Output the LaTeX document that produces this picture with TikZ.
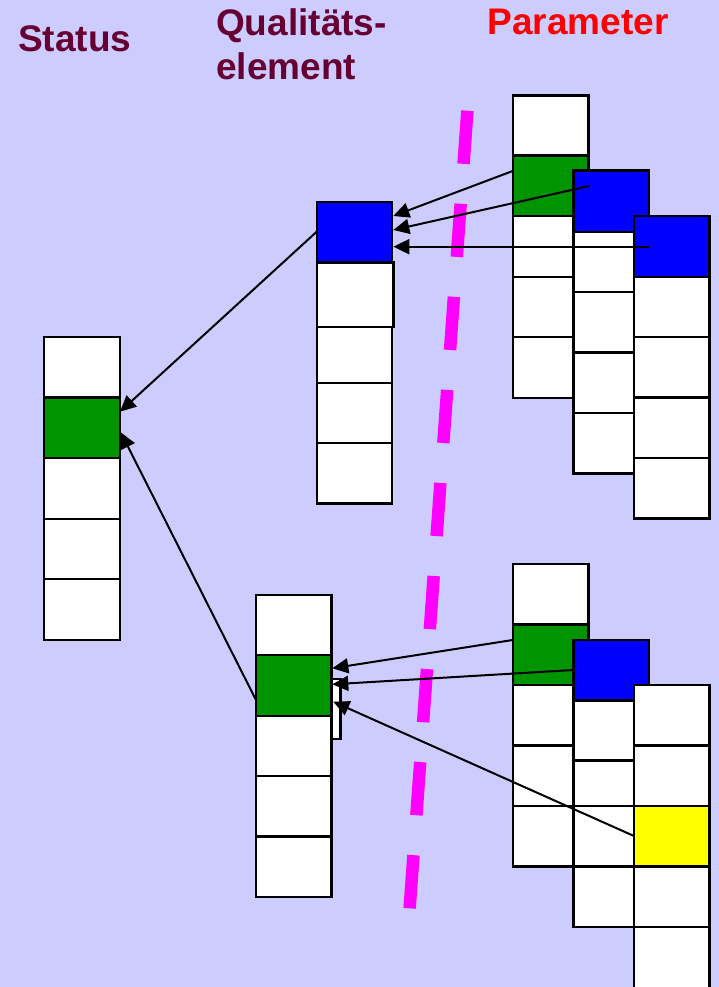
\documentclass[tikz,border=0pt]{standalone}
\usepackage{fontspec}
\setmainfont{Liberation Sans}
\usetikzlibrary{arrows.meta}
\definecolor{bg}{RGB}{204,204,255}
\definecolor{cgreen}{RGB}{0,148,0}
\definecolor{cblue}{RGB}{0,0,255}
\definecolor{cyellow}{RGB}{255,255,0}
\definecolor{cmag}{RGB}{255,0,255}
\definecolor{ctitle}{RGB}{102,0,51}
\definecolor{cred}{RGB}{255,0,0}
\tikzset{
  cellbox/.style={draw=black,line width=2.4pt,rectangle,inner sep=0pt,outer sep=0pt},
  arr/.style={draw=black,line width=2pt,-{Triangle[length=16pt,width=15pt]}},
  divider/.style={draw=cmag,line width=12.5pt,dash pattern=on 53.3pt off 40pt},
  heading/.style={font=\fontsize{37}{45}\selectfont\bfseries,inner sep=0pt,anchor=base west}
}
\newcommand\mycell[6]{\node[cellbox,fill=#6,minimum width={(#4)-(#2)},minimum height={(#5)-(#3)}] (#1) at ({((#2)+(#4))/2},{((#3)+(#5))/2}) {};}
\begin{document}
\begin{tikzpicture}[x=1pt,y=-1pt]
\fill[bg] (0,0) rectangle (719,987);
\useasboundingbox (0,0) rectangle (719,987);

% headings
\node[heading,text=ctitle] (tstatus) at (18,51.5) {Status};
\node[heading,text=ctitle] (tqual1) at (216,35.5) {Qualitäts-};
\node[heading,text=ctitle] (tqual2) at (216,80) {element};
\node[heading,text=cred] (tparam) at (487.5,35) {Parameter};

% divider
\coordinate (dtop) at (467.4,110.7);
\coordinate (dbot) at (409.6,908.7);
\draw[divider] (dtop) -- (dbot);

% Status stack
\mycell{s1}{44}{337}{120}{397.3}{white}
\mycell{s2}{44}{397.3}{120}{457.7}{cgreen}
\mycell{s3}{44}{457.7}{120}{519}{white}
\mycell{s4}{44}{519}{120}{579}{white}
\mycell{s5}{44}{579}{120}{640}{white}

% Qualitaetselement top
\mycell{q1b}{316.7}{262.3}{393.3}{326.7}{white}
\mycell{q1c}{316.7}{326.7}{392}{382.7}{white}
\mycell{q1d}{316.7}{382.7}{392}{442.7}{white}
\mycell{q1e}{316.7}{442.7}{392}{503.3}{white}
\mycell{q1a}{316.7}{201.7}{392}{262.3}{cblue}

% Qualitaetselement bottom
\mycell{q2x}{300}{679}{340.5}{739}{white}
\mycell{q2a}{256}{594.7}{331.3}{655}{white}
\mycell{q2b}{256}{655}{331.3}{715.7}{cgreen}
\mycell{q2c}{256}{715.7}{331.3}{776}{white}
\mycell{q2d}{256}{776}{331.3}{836.3}{white}
\mycell{q2e}{256}{836.3}{331.3}{896.7}{white}

% Parameter top: A1
\mycell{a1a}{512.7}{95.7}{588.3}{155.7}{white}
\mycell{a1b}{512.7}{155.7}{588.3}{216}{cgreen}
\mycell{a1c}{512.7}{216}{588.3}{277}{white}
\mycell{a1d}{512.7}{277}{588.3}{337}{white}
\mycell{a1e}{512.7}{337}{588.3}{397.7}{white}
% A2
\mycell{a2a}{573.3}{170.7}{649}{231.7}{cblue}
\mycell{a2b}{573.3}{231.7}{649}{291.7}{white}
\mycell{a2c}{573.3}{291.7}{649}{352.3}{white}
\mycell{a2d}{573.3}{352.3}{649}{412.7}{white}
\mycell{a2e}{573.3}{412.7}{649}{473.3}{white}
% A3
\mycell{a3a}{634}{216}{709.3}{276.7}{cblue}
\mycell{a3b}{634}{276.7}{709.3}{337}{white}
\mycell{a3c}{634}{337}{709.3}{397.3}{white}
\mycell{a3d}{634}{397.3}{709.3}{458}{white}
\mycell{a3e}{634}{458}{709.3}{518.3}{white}

% Parameter bottom: B1
\mycell{b1a}{512.7}{564}{588.3}{624.5}{white}
\mycell{b1b}{512.7}{624.5}{588.3}{685}{cgreen}
\mycell{b1c}{512.7}{685}{588.3}{745.5}{white}
\mycell{b1d}{512.7}{745.5}{588.3}{805.8}{white}
\mycell{b1e}{512.7}{805.8}{588.3}{866.3}{white}
% B2
\mycell{b2a}{573.3}{640}{649}{700.3}{cblue}
\mycell{b2b}{573.3}{700.3}{649}{760.3}{white}
\mycell{b2c}{573.3}{760.3}{649}{805.8}{white}
\mycell{b2d}{573.3}{805.8}{649}{866.3}{white}
\mycell{b2e}{573.3}{866.3}{649}{926.7}{white}
% B3
\mycell{b3a}{634}{685}{709.3}{745.3}{white}
\mycell{b3b}{634}{745.3}{709.3}{805.8}{white}
\mycell{b3c}{634}{805.8}{709.3}{866.3}{cyellow}
\mycell{b3d}{634}{866.3}{709.3}{926.7}{white}
\mycell{b3e}{634}{926.7}{709.3}{988}{white}

% connector end points
\coordinate (pa1) at (512.7,171);
\coordinate (pa2) at (589.3,186);
\coordinate (pa3) at (649.3,246.7);
\coordinate (tq1a) at (393.3,216);
\coordinate (tq1b) at (393.3,230);
\coordinate (tq1c) at (393.3,246.7);
\coordinate (pq1) at (316.7,231.7);
\coordinate (ts1) at (120,411.7);

\coordinate (pb1) at (512.7,640);
\coordinate (pb2) at (573.3,670);
\coordinate (pb3) at (634,836);
\coordinate (tq2a) at (332.3,668.3);
\coordinate (tq2b) at (332.3,684.3);
\coordinate (tq2c) at (333.3,701.7);
\coordinate (pq2) at (256,700);
\coordinate (ts2) at (120.7,432.3);

\draw[arr] (pa1) -- (tq1a);
\draw[arr] (pa2) -- (tq1b);
\draw[arr] (pa3) -- (tq1c);
\draw[arr] (pq1) -- (ts1);
\draw[arr] (pb1) -- (tq2a);
\draw[arr] (pb2) -- (tq2b);
\draw[arr] (pb3) -- (tq2c);
\draw[arr] (pq2) -- (ts2);
\end{tikzpicture}
\end{document}
